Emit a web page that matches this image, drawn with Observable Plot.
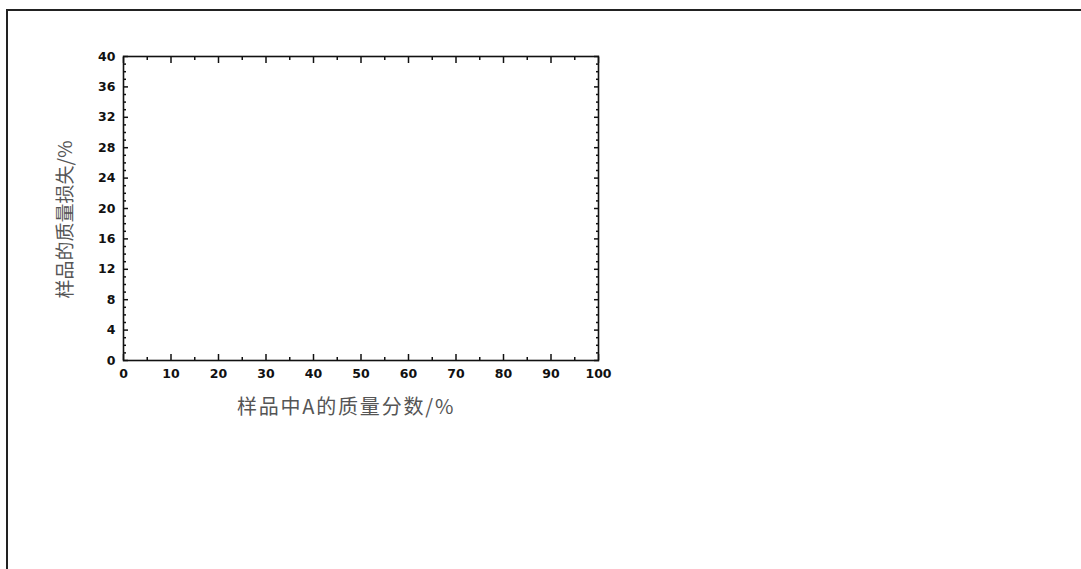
<!DOCTYPE html>
<html>
<head>
<meta charset="utf-8">
<script src="https://cdn.jsdelivr.net/npm/d3@7"></script>
<script src="https://cdn.jsdelivr.net/npm/@observablehq/plot@0.6"></script>
<style>
  html, body { margin: 0; padding: 0; background: #fff; }
  #wrap { position: relative; width: 1081px; height: 569px; overflow: hidden; }
  #border { position: absolute; left: 6px; top: 9px; right: -10px; bottom: -10px;
            border-left: 2px solid #222; border-top: 2px solid #222; pointer-events: none; }
  .xtitle text { letter-spacing: 1.8px; }
</style>
</head>
<body>
<div id="wrap"><div id="border"></div></div>
<script>
// ---- data (empty chart: only axes) ----
const xDomain = [0, 100];
const yDomain = [0, 40];
const xMajorTicks = [0, 10, 20, 30, 40, 50, 60, 70, 80, 90, 100];
const xMinorTicks = [5, 15, 25, 35, 45, 55, 65, 75, 85, 95];
const yMajorTicks = [0, 4, 8, 12, 16, 20, 24, 28, 32, 36, 40];
const yMinorTicks = [1, 2, 3, 5, 6, 7, 9, 10, 11, 13, 14, 15, 17, 18, 19, 21, 22, 23, 25, 26, 27, 29, 30, 31, 33, 34, 35, 37, 38, 39];
const xLabel = "样品中A的质量分数/%";
const yLabel = "样品的质量损失/%";

const tickFont = "'DejaVu Sans', Arial, sans-serif";
const cjkFont = "'Noto Sans CJK SC', sans-serif";
const ink = "#111";

const chart = Plot.plot({
  width: 1081,
  height: 569,
  marginLeft: 123,
  marginTop: 56,
  marginRight: 483,
  marginBottom: 209,
  style: { background: "transparent", overflow: "visible" },
  x: { domain: xDomain },
  y: { domain: yDomain },
  marks: [
    Plot.frame({ stroke: ink, strokeWidth: 1.6 }),
    // bottom
    Plot.axisX({ anchor: "bottom", ticks: xMajorTicks, tickSize: -6, text: null, stroke: ink, strokeWidth: 1.5, label: null }),
    Plot.axisX({ anchor: "bottom", ticks: xMinorTicks, tickSize: -3, text: null, stroke: ink, strokeWidth: 1.5, label: null }),
    Plot.axisX({ anchor: "bottom", ticks: xMajorTicks, tickSize: 0, tickPadding: 9, tickFormat: d => String(d),
                 fontFamily: tickFont, fontWeight: "bold", fontSize: 12.5, fill: ink, label: null }),
    // top
    Plot.axisX({ anchor: "top", ticks: xMajorTicks, tickSize: -6, text: null, stroke: ink, strokeWidth: 1.5, label: null }),
    Plot.axisX({ anchor: "top", ticks: xMinorTicks, tickSize: -3, text: null, stroke: ink, strokeWidth: 1.5, label: null }),
    // left
    Plot.axisY({ anchor: "left", ticks: yMajorTicks, tickSize: -5, text: null, stroke: ink, strokeWidth: 1.5, label: null }),
    Plot.axisY({ anchor: "left", ticks: yMinorTicks, tickSize: -3, text: null, stroke: ink, strokeWidth: 1.5, label: null }),
    Plot.axisY({ anchor: "left", ticks: yMajorTicks, tickSize: 0, tickPadding: 8, tickFormat: d => String(d),
                 fontFamily: tickFont, fontWeight: "bold", fontSize: 12.5, fill: ink, label: null }),
    // right
    Plot.axisY({ anchor: "right", ticks: yMajorTicks, tickSize: -5, text: null, stroke: ink, strokeWidth: 1.5, label: null }),
    Plot.axisY({ anchor: "right", ticks: yMinorTicks, tickSize: -3, text: null, stroke: ink, strokeWidth: 1.5, label: null }),
    // axis titles
    Plot.text([xLabel], { text: d => d, frameAnchor: "bottom", dx: -15, dy: 47, lineAnchor: "middle", textAnchor: "middle",
                          fontFamily: cjkFont, fontSize: 20, fill: "#555", className: "xtitle" }),
    Plot.text([yLabel], { text: d => d, frameAnchor: "left", dx: -58, dy: 11, rotate: -90, lineAnchor: "middle", textAnchor: "middle",
                          fontFamily: cjkFont, fontSize: 19, fill: "#555" })
  ]
});
document.getElementById("wrap").appendChild(chart);
chart.style.position = "absolute";
chart.style.left = "0";
chart.style.top = "0";
</script>
</body>
</html>
